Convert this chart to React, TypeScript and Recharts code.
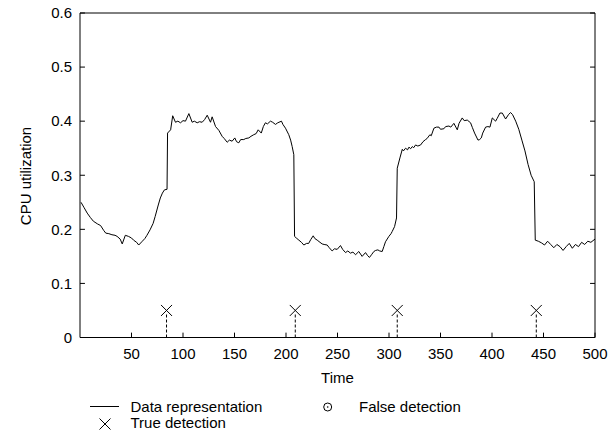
import React from "react";
import {
  ComposedChart,
  Line,
  Scatter,
  XAxis,
  YAxis,
  ReferenceArea,
  ReferenceLine,
} from "recharts";

// Time axis values of the CPU trace
const times: number[] = [
  1, 4, 7, 10, 13, 17, 20, 23, 25, 28, 31, 34, 36, 39, 41, 44, 47, 50, 52, 55,
  57, 60, 63, 65, 68, 71, 73, 76, 78, 80, 82, 84.5, 85, 88, 90, 92.7, 95, 97.6,
  100, 102.4, 105.7, 108.9, 111, 113.8, 116, 118.6, 121, 123.5, 126.7, 128.3,
  131.6, 134.8, 138, 140, 142.9, 145, 147.7, 150.3, 152, 154.2, 156, 159, 161,
  163.9, 166, 168.7, 171, 173, 176, 178, 180, 182, 184.9, 187, 189.8, 192,
  195.6, 197, 199.5, 202.7, 204.5, 206, 207.6, 208.3, 210, 212.5, 215, 217.3,
  220, 222, 224, 226.4, 228, 230.3, 233, 235.1, 237, 240, 242, 244.8, 247,
  249.7, 252.9, 255, 257.8, 260, 262.6, 265, 267.5, 270.7, 273.9, 277.2, 279,
  281, 283, 285.3, 287, 289.2, 291, 293.4, 295, 296.6, 299.9, 302, 303.1,
  305.4, 307.3, 308, 310.6, 312.9, 314, 316.1, 318, 319.4, 321, 322.6, 324,
  325.8, 328, 330.7, 333, 335.5, 337, 339.7, 341, 343.6, 346, 348.5, 350,
  353.3, 355, 358.2, 360, 363, 366.3, 368, 371.1, 373, 376, 379.2, 381, 383.1,
  386.4, 388, 389.6, 391, 393.8, 396, 398, 400.3, 403.5, 405, 407.7, 410,
  413.2, 416, 418, 420, 423, 426, 429, 432, 435, 438, 441, 442, 445, 448, 451,
  454, 457, 460, 463, 466, 469, 472, 475, 478, 481, 484, 487, 490, 493, 496,
  500,
];

// CPU utilization values
const cpu: number[] = [
  0.25, 0.24, 0.23, 0.222, 0.215, 0.21, 0.207, 0.198, 0.193, 0.192, 0.19,
  0.189, 0.187, 0.182, 0.173, 0.189, 0.187, 0.184, 0.18, 0.176, 0.171, 0.177,
  0.183, 0.189, 0.199, 0.211, 0.224, 0.245, 0.258, 0.267, 0.273, 0.274, 0.378,
  0.384, 0.41, 0.398, 0.4, 0.397, 0.401, 0.4, 0.414, 0.398, 0.4, 0.397, 0.399,
  0.398, 0.403, 0.411, 0.398, 0.408, 0.39, 0.383, 0.372, 0.368, 0.361, 0.365,
  0.363, 0.369, 0.362, 0.36, 0.366, 0.366, 0.368, 0.369, 0.372, 0.375, 0.377,
  0.384, 0.378, 0.39, 0.397, 0.395, 0.4, 0.398, 0.394, 0.397, 0.4, 0.394,
  0.387, 0.375, 0.365, 0.353, 0.338, 0.187, 0.184, 0.18, 0.176, 0.171, 0.174,
  0.174, 0.181, 0.188, 0.183, 0.18, 0.176, 0.173, 0.172, 0.171, 0.166, 0.16,
  0.164, 0.163, 0.17, 0.163, 0.157, 0.16, 0.156, 0.158, 0.153, 0.159, 0.15,
  0.157, 0.152, 0.148, 0.153, 0.159, 0.161, 0.162, 0.16, 0.159, 0.168, 0.177,
  0.187, 0.192, 0.196, 0.205, 0.221, 0.313, 0.332, 0.348, 0.345, 0.35, 0.347,
  0.352, 0.349, 0.353, 0.351, 0.356, 0.354, 0.356, 0.362, 0.366, 0.368, 0.375,
  0.373, 0.387, 0.389, 0.389, 0.385, 0.386, 0.39, 0.391, 0.389, 0.396, 0.384,
  0.396, 0.406, 0.401, 0.402, 0.397, 0.388, 0.378, 0.365, 0.366, 0.369, 0.378,
  0.389, 0.39, 0.389, 0.406, 0.4, 0.405, 0.415, 0.415, 0.404, 0.412, 0.416,
  0.412, 0.4, 0.385, 0.365, 0.345, 0.32, 0.3, 0.288, 0.18, 0.178, 0.175,
  0.171, 0.178, 0.172, 0.166, 0.172, 0.168, 0.161, 0.168, 0.174, 0.165, 0.172,
  0.168, 0.176, 0.172, 0.178, 0.176, 0.182, 0.181,
];

// True detections (time positions)
const detectionTimes: number[] = [84, 209, 308, 443];
const detectionLevel = 0.05;

const xTicks: number[] = [50, 100, 150, 200, 250, 300, 350, 400, 450, 500];
const yTicks: number[] = [0, 0.1, 0.2, 0.3, 0.4, 0.5, 0.6];

const lineData = times.map((t, i) => ({ t, v: cpu[i] }));
const detData = detectionTimes.map((t) => ({ t, v: detectionLevel }));

const FONT = "'Liberation Sans', Arial, Helvetica, sans-serif";

const Cross = (props: any) => {
  const { cx, cy } = props;
  const s = 5.5;
  return (
    <path
      d={`M${cx - s},${cy - s}L${cx + s},${cy + s}M${cx - s},${cy + s}L${cx + s},${cy - s}`}
      stroke="#000"
      strokeWidth={1}
      fill="none"
    />
  );
};

export default function App() {
  const tickStyle = { fill: "#000", fontSize: 15, fontFamily: FONT };
  return (
    <div
      style={{
        position: "absolute",
        left: 0,
        top: 0,
        width: 610,
        height: 436,
        background: "#fff",
      }}
    >
      <ComposedChart
        width={610}
        height={436}
        data={lineData}
        margin={{ top: 13, right: 15, bottom: 0, left: 0 }}
      >
        <XAxis
          dataKey="t"
          type="number"
          domain={[0, 500]}
          ticks={xTicks}
          height={98.5}
          axisLine={false}
          tickLine={false}
          tickSize={6}
          tickMargin={5}
          tick={tickStyle}
          allowDataOverflow
        />
        <YAxis
          type="number"
          domain={[0, 0.6]}
          ticks={yTicks}
          width={80}
          axisLine={false}
          tickLine={false}
          tickSize={6}
          tickMargin={2}
          tick={tickStyle}
          tickFormatter={(v: number) => String(v)}
          allowDataOverflow
        />
        {xTicks.map((t) => (
          <ReferenceLine
            key={"xt" + t}
            segment={[
              { x: t, y: 0 },
              { x: t, y: 0.009 },
            ]}
            stroke="#000"
            strokeWidth={1}
            ifOverflow="visible"
          />
        ))}
        {yTicks.map((v) => (
          <ReferenceLine
            key={"yl" + v}
            segment={[
              { x: 0, y: v },
              { x: 4.8, y: v },
            ]}
            stroke="#000"
            strokeWidth={1}
            ifOverflow="visible"
          />
        ))}
        {yTicks.map((v) => (
          <ReferenceLine
            key={"yr" + v}
            segment={[
              { x: 495.2, y: v },
              { x: 500, y: v },
            ]}
            stroke="#000"
            strokeWidth={1}
            ifOverflow="visible"
          />
        ))}
        {detectionTimes.map((t) => (
          <ReferenceLine
            key={"dl" + t}
            segment={[
              { x: t, y: 0 },
              { x: t, y: detectionLevel - 0.006 },
            ]}
            stroke="#000"
            strokeWidth={1}
            strokeDasharray="3 2"
            ifOverflow="visible"
          />
        ))}
        <ReferenceArea
          x1={0}
          x2={500}
          y1={0}
          y2={0.6}
          fill="none"
          fillOpacity={0}
          stroke="#000"
          strokeWidth={1}
          ifOverflow="visible"
        />
        <Line
          dataKey="v"
          type="linear"
          stroke="#000"
          strokeWidth={1}
          dot={false}
          activeDot={false}
          isAnimationActive={false}
        />
        <Scatter
          data={detData}
          dataKey="v"
          shape={Cross}
          isAnimationActive={false}
        />
      </ComposedChart>
      <svg
        width={610}
        height={436}
        style={{ position: "absolute", left: 0, top: 0, pointerEvents: "none" }}
      >
        <text
          x={337.5}
          y={382.5}
          textAnchor="middle"
          fontSize={15}
          fontFamily={FONT}
          fill="#000"
        >
          Time
        </text>
        <text
          transform="translate(30.5,176) rotate(-90)"
          textAnchor="middle"
          fontSize={15}
          fontFamily={FONT}
          fill="#000"
        >
          CPU utilization
        </text>
        <line x1={90} y1={406.5} x2={119} y2={406.5} stroke="#000" strokeWidth={1} />
        <text x={130.5} y={411.5} fontSize={15} fontFamily={FONT} fill="#000">
          Data representation
        </text>
        <path
          d="M99.5,418.5L110.5,429.5M99.5,429.5L110.5,418.5"
          stroke="#000"
          strokeWidth={1}
          fill="none"
        />
        <text x={130.5} y={428} fontSize={15} fontFamily={FONT} fill="#000">
          True detection
        </text>
        <circle cx={327.7} cy={407} r={4} stroke="#000" strokeWidth={1} fill="none" />
        <circle cx={327.7} cy={407} r={0.8} fill="#000" />
        <text x={359} y={411.5} fontSize={15} fontFamily={FONT} fill="#000">
          False detection
        </text>
      </svg>
    </div>
  );
}
